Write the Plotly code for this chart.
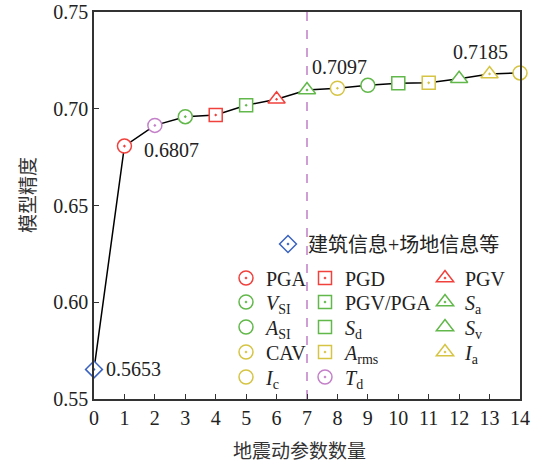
import plotly.graph_objects as go

# ---- data ----
param_counts = [0, 1, 2, 3, 4, 5, 6, 7, 8, 9, 10, 11, 12, 13, 14]
accuracy = [0.5653, 0.6807, 0.6914, 0.6959, 0.6968, 0.7018, 0.7049, 0.7097,
            0.7106, 0.7121, 0.7132, 0.7134, 0.7155, 0.7180, 0.7185]
labels = ["建筑信息+场地信息等", "PGA", "<i>T</i><sub>d</sub>", "<i>V</i><sub>SI</sub>", "PGD",
          "PGV/PGA", "PGV", "<i>S</i><sub>a</sub>", "CAV", "<i>A</i><sub>SI</sub>",
          "<i>S</i><sub>d</sub>", "<i>A</i><sub>rms</sub>", "<i>S</i><sub>v</sub>",
          "<i>I</i><sub>a</sub>", "<i>I</i><sub>c</sub>"]
annotated_points = [0, 1, 7, 14]
x_ticks = [0, 1, 2, 3, 4, 5, 6, 7, 8, 9, 10, 11, 12, 13, 14]
y_ticks = [0.55, 0.60, 0.65, 0.70, 0.75]
y_tick_text = ["0.55", "0.60", "0.65", "0.70", "0.75"]
divider_x = 7

# ---- styles ----
RED = "#f0413c"
GREEN = "#62b84a"
YEL = "#d6c445"
PUR = "#c481c9"
BLUE = "#3a62c0"
symbols = ["diamond-dot", "circle-dot", "circle-dot", "circle-dot", "square-dot",
           "square-dot", "triangle-up-dot", "triangle-up-dot", "circle-dot", "circle",
           "square", "square-dot", "triangle-up", "triangle-up-dot", "circle"]
colors = [BLUE, RED, PUR, GREEN, RED, GREEN, RED, GREEN, YEL, GREEN, GREEN, YEL, GREEN, YEL, YEL]
sizes = [13, 14, 14, 14, 13, 13, 15, 15, 14, 14, 13, 13, 15, 15, 14]

W, H = 536, 463
PL, PR, PT, PB = 94, 520, 12, 399          # plot box in page pixels
L, T = PL, PT
R, B = W - PR, H - PB
PW, PH = PR - PL, PB - PT

# legend placement (page pixel coords of marker centre)
col_x = [248, 327, 447]
row_y = [278, 302, 327, 352, 377]
legend_px = {0: (290, 244),
             1: (col_x[0], row_y[0]), 3: (col_x[0], row_y[1]), 9: (col_x[0], row_y[2]),
             8: (col_x[0], row_y[3]), 14: (col_x[0], row_y[4]),
             4: (col_x[1], row_y[0]), 5: (col_x[1], row_y[1]), 10: (col_x[1], row_y[2]),
             11: (col_x[1], row_y[3]), 2: (col_x[1], row_y[4]),
             6: (col_x[2], row_y[0]), 7: (col_x[2], row_y[1]), 12: (col_x[2], row_y[2]),
             13: (col_x[2], row_y[3])}


def to_paper(px, py):
    return (px - PL) / PW, (PB - py) / PH


FONT = "Liberation Serif, Noto Sans CJK SC, serif"
TXT = "#222"

fig = go.Figure()
fig.add_trace(go.Scatter(x=param_counts, y=accuracy, mode="lines",
                         line=dict(color="black", width=1.5), showlegend=False,
                         hoverinfo="skip", cliponaxis=False))

layout_legends = {}
for i in range(len(param_counts)):
    lg = "legend" if i == 0 else f"legend{i + 1}"
    fig.add_trace(go.Scatter(
        x=[param_counts[i]], y=[accuracy[i]], mode="markers", name=labels[i],
        marker=dict(symbol=symbols[i], size=sizes[i], color="white",
                    line=dict(color=colors[i], width=1.5)),
        cliponaxis=False, legend=lg, showlegend=True))
    mx, my = legend_px[i]
    xp, yp = to_paper(mx - 22, my)
    layout_legends[lg] = dict(x=xp, y=yp, xanchor="left", yanchor="middle",
                              bgcolor="rgba(0,0,0,0)", borderwidth=0,
                              font=dict(family=FONT, size=20, color=TXT),
                              itemsizing="trace")

fig.add_shape(type="line", x0=divider_x, x1=divider_x, y0=0, y1=1, xref="x", yref="y domain",
              line=dict(color="#c07fc6", width=1.5, dash="dash"), layer="below")

ann_style = {0: dict(xanchor="left", yanchor="middle", xshift=10, yshift=0),
             1: dict(xanchor="left", yanchor="middle", xshift=18, yshift=-4),
             7: dict(xanchor="left", yanchor="middle", xshift=3, yshift=23),
             14: dict(xanchor="right", yanchor="middle", xshift=-10, yshift=21)}
for i in annotated_points:
    fig.add_annotation(x=param_counts[i], y=accuracy[i], text=f"{accuracy[i]:.4f}",
                       showarrow=False, font=dict(family=FONT, size=20, color=TXT),
                       **ann_style[i])

# axis titles
tx, ty = to_paper(299, 449)
fig.add_annotation(x=tx, y=ty, xref="paper", yref="paper", text="地震动参数数量",
                   showarrow=False, xanchor="center", yanchor="middle",
                   font=dict(family="Noto Sans CJK SC", size=19, color="#333"))
tx, ty = to_paper(27, 195)
fig.add_annotation(x=tx, y=ty, xref="paper", yref="paper",
                   text="模型精度", textangle=-90,
                   showarrow=False, xanchor="center", yanchor="middle",
                   font=dict(family="Noto Sans CJK SC", size=19, color="#333"))

axis_common = dict(showline=True, linecolor="#333", linewidth=1.5, mirror=True,
                   ticks="inside", ticklen=5, tickwidth=1.2, tickcolor="#333",
                   showgrid=False, zeroline=False, ticklabeloverflow="allow",
                   tickfont=dict(family=FONT, size=20, color=TXT))
fig.update_xaxes(range=[0, 14], tickvals=x_ticks, **axis_common)
fig.update_yaxes(range=[0.55, 0.75], tickvals=y_ticks, ticktext=y_tick_text, **axis_common)

fig.update_layout(width=W, height=H, margin=dict(l=L, r=R, t=T, b=B, autoexpand=False),
                  plot_bgcolor="white", paper_bgcolor="white", **layout_legends)

fig.write_html("out.html", config={"displayModeBar": False},
               post_script="document.body.style.margin='0';document.body.style.overflow='hidden';")
